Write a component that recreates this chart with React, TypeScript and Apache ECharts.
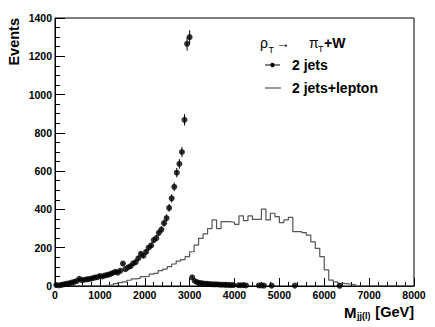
import React, { useEffect, useRef } from "react";
import * as echarts from "echarts";

// 2 jets: invariant mass (GeV) and events
const jetsMass = [
  29, 86, 143, 200, 257, 314, 371, 429, 486, 543, 600, 657, 714, 771, 829, 886, 943, 1000,
  1057, 1114, 1171, 1229, 1286, 1343, 1400, 1457, 1514, 1571, 1629, 1686, 1743, 1800, 1857,
  1914, 1971, 2029, 2086, 2143, 2200, 2257, 2314, 2371, 2429, 2486, 2543, 2600, 2657, 2714,
  2771, 2829, 2886, 2943, 3000, 3057, 3114, 3171, 3229, 3286, 3343, 3400, 3457, 3514, 3571,
  3629, 3686, 3743, 3800, 3857, 3914, 3971, 4086, 4143, 4200, 4257, 4543, 4600, 4657, 4829,
  5343, 6343,
];
const jetsEvents = [
  5, 3, 6, 9, 12, 14, 18, 22, 26, 38, 30, 33, 35, 37, 40, 44, 46, 52,
  50, 55, 58, 62, 68, 74, 70, 80, 117, 88, 98, 104, 118, 125, 145,
  168, 158, 178, 200, 212, 240, 250, 278, 295, 328, 355, 408, 458, 518, 592,
  638, 700, 868, 1265, 1300, 45, 26, 19, 16, 14, 12, 11, 10, 9, 9,
  8, 7, 7, 6, 6, 5, 5, 4, 4, 4, 3, 3, 3, 2, 2,
  2, 1,
];

// 2 jets+lepton histogram: 100 GeV bins starting at 0
const histBinWidth = 100;
const histEvents = [
  0, 0, 0, 0, 0, 0, 0, 0, 0, 0,
  2, 4, 6, 12, 18, 22, 30, 37, 40, 49,
  50, 62, 66, 80, 88, 101, 115, 130, 138, 153,
  179, 214, 249, 272, 300, 345, 300, 336, 336, 333,
  322, 366, 341, 366, 348, 348, 402, 345, 380, 362,
  331, 345, 359, 284, 284, 279, 266, 231, 197, 153,
  84, 31, 22, 14, 12, 9, 6, 0, 0, 0,
  0, 0, 0, 0, 0, 0, 0, 0, 0, 0,
];

const xTicks = { min: 0, max: 8000, interval: 1000 };
const yTicks = { min: 0, max: 1400, interval: 200 };

const FONT = "'Liberation Sans', Arial, Helvetica, sans-serif";

export default function App() {
  const ref = useRef<HTMLDivElement>(null);
  useEffect(() => {
    if (!ref.current) return;
    const chart = echarts.init(ref.current, null, { renderer: "svg" });

    const histData: number[][] = histEvents.map((v, i) => [i * histBinWidth, v]);
    histData.push([histEvents.length * histBinWidth, histEvents[histEvents.length - 1]]);

    const pts = jetsMass.map((m, i) => [m, jetsEvents[i], Math.sqrt(jetsEvents[i])]);

    const axisCommon = {
      axisLine: { show: true, lineStyle: { color: "#000", width: 1 } },
      splitLine: { show: false },
    };
    const plain = (v: number) => String(v);

    chart.setOption({
      animation: false,
      grid: {
        left: 55,
        top: 18,
        right: 21,
        bottom: 41,
        show: true,
        borderColor: "#000",
        borderWidth: 1,
        backgroundColor: "transparent",
      },
      xAxis: {
        type: "value",
        min: xTicks.min,
        max: xTicks.max,
        interval: xTicks.interval,
        ...axisCommon,
        axisTick: { show: true, inside: true, length: 8, lineStyle: { color: "#000" } },
        minorTick: { show: true, splitNumber: 5, length: 4, lineStyle: { color: "#000" } },
        axisLabel: {
          margin: 3,
          color: "#000",
          fontFamily: FONT,
          fontWeight: "bold",
          fontSize: 10.5,
          showMinLabel: true,
          showMaxLabel: true,
          formatter: plain,
        },
      },
      yAxis: {
        type: "value",
        min: yTicks.min,
        max: yTicks.max,
        interval: yTicks.interval,
        ...axisCommon,
        axisTick: { show: true, inside: true, length: 10, lineStyle: { color: "#000" } },
        minorTick: { show: true, splitNumber: 4, length: 5, lineStyle: { color: "#000" } },
        axisLabel: {
          margin: 3,
          color: "#000",
          fontFamily: FONT,
          fontWeight: "bold",
          fontSize: 10.5,
          formatter: plain,
        },
      },
      series: [
        {
          name: "2 jets+lepton",
          type: "line",
          step: "end",
          data: histData,
          showSymbol: false,
          symbol: "none",
          lineStyle: { color: "#555", width: 1.2 },
          z: 2,
        },
        {
          name: "errors",
          type: "custom",
          data: pts,
          renderItem: (params: any, api: any) => {
            const x = api.value(0);
            const y = api.value(1);
            const e = api.value(2);
            const p1 = api.coord([x, y + e]);
            const p2 = api.coord([x, Math.max(0, y - e)]);
            return {
              type: "line",
              shape: { x1: p1[0], y1: p1[1], x2: p2[0], y2: p2[1] },
              style: { stroke: "#000", lineWidth: 1 },
            };
          },
          z: 3,
        },
        {
          name: "2 jets",
          type: "scatter",
          data: pts.map((p) => [p[0], p[1]]),
          symbol: "circle",
          symbolSize: 6,
          itemStyle: { color: "#000" },
          z: 4,
        },
      ],
      graphic: [
        {
          type: "text",
          x: 14,
          y: 18,
          rotation: Math.PI / 2,
          style: {
            text: "Events",
            fontFamily: FONT,
            fontWeight: "bold",
            fontSize: 14.5,
            fill: "#000",
            textAlign: "right",
            textVerticalAlign: "middle",
          },
        },
        {
          type: "text",
          x: 344,
          y: 312,
          style: { text: "M", fontFamily: FONT, fontWeight: "bold", fontSize: 15, fill: "#000", textAlign: "left", textVerticalAlign: "middle" },
        },
        {
          type: "text",
          x: 357,
          y: 316,
          style: { text: "jj(l)", fontFamily: FONT, fontWeight: "bold", fontSize: 9, fill: "#000", textAlign: "left", textVerticalAlign: "middle" },
        },
        {
          type: "text",
          x: 414,
          y: 312,
          style: { text: "[GeV]", fontFamily: FONT, fontWeight: "bold", fontSize: 14.5, fill: "#000", textAlign: "right", textVerticalAlign: "middle" },
        },
        // legend header
        {
          type: "text",
          x: 260,
          y: 43,
          style: { text: "ρ", fontFamily: FONT, fontSize: 14, fill: "#000", textAlign: "left", textVerticalAlign: "middle" },
        },
        {
          type: "text",
          x: 268.5,
          y: 50,
          style: { text: "T", fontFamily: FONT, fontSize: 9, fill: "#000", textAlign: "left", textVerticalAlign: "middle" },
        },
        {
          type: "text",
          x: 276,
          y: 43,
          style: { text: "→", fontFamily: FONT, fontSize: 14, fill: "#000", textAlign: "left", textVerticalAlign: "middle" },
        },
        {
          type: "text",
          x: 309,
          y: 43,
          style: { text: "π", fontFamily: FONT, fontSize: 14, fill: "#000", textAlign: "left", textVerticalAlign: "middle" },
        },
        {
          type: "text",
          x: 318,
          y: 49,
          style: { text: "T", fontFamily: FONT, fontSize: 9, fill: "#000", textAlign: "left", textVerticalAlign: "middle" },
        },
        {
          type: "text",
          x: 324,
          y: 43,
          style: { text: "+W", fontFamily: FONT, fontWeight: "bold", fontSize: 14, fill: "#000", textAlign: "left", textVerticalAlign: "middle" },
        },
        // legend entry: 2 jets
        { type: "line", shape: { x1: 265, y1: 65, x2: 280, y2: 65 }, style: { stroke: "#000", lineWidth: 1 } },
        { type: "circle", shape: { cx: 272.5, cy: 65, r: 2.2 }, style: { fill: "#000" } },
        {
          type: "text",
          x: 292,
          y: 65,
          style: { text: "2 jets", fontFamily: FONT, fontWeight: "bold", fontSize: 14, fill: "#000", textAlign: "left", textVerticalAlign: "middle" },
        },
        // legend entry: 2 jets+lepton
        { type: "line", shape: { x1: 265, y1: 88, x2: 281, y2: 88 }, style: { stroke: "#555", lineWidth: 1.2 } },
        {
          type: "text",
          x: 292,
          y: 88,
          style: { text: "2 jets+lepton", fontFamily: FONT, fontWeight: "bold", fontSize: 14, fill: "#000", textAlign: "left", textVerticalAlign: "middle" },
        },
      ],
    });
    return () => chart.dispose();
  }, []);
  return (
    <div
      ref={ref}
      style={{ position: "fixed", left: 0, top: 0, width: 435, height: 327, background: "#fff" }}
    />
  );
}
